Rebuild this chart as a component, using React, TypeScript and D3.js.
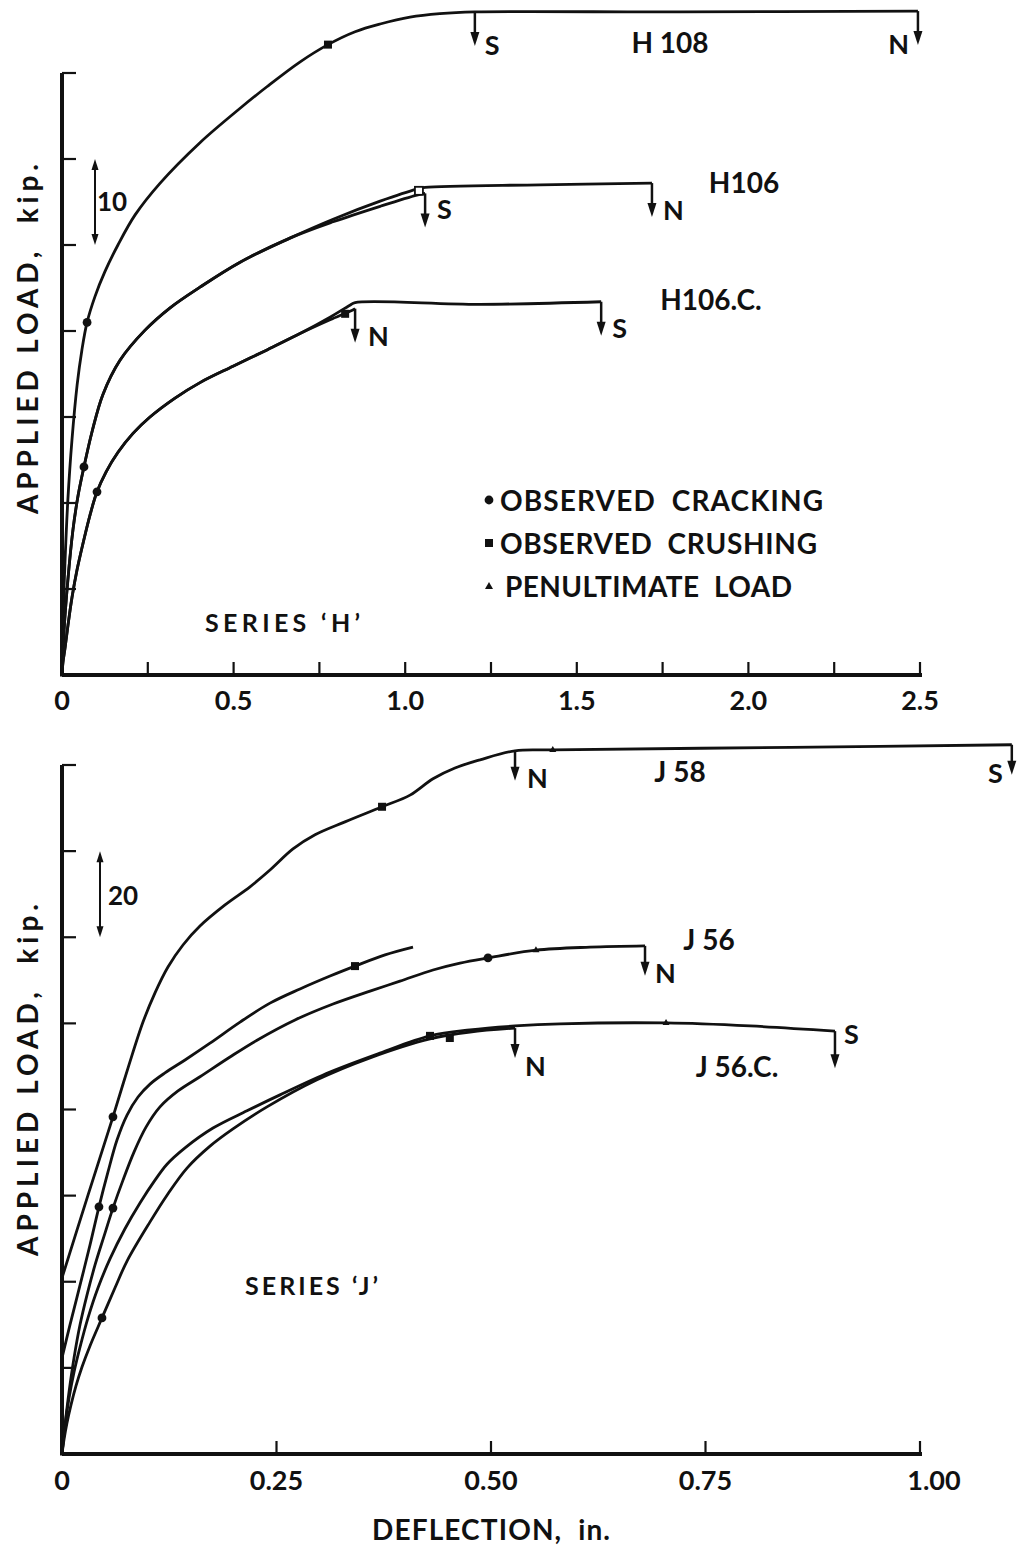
import * as d3 from "d3";

// ---------- Series 'H' (upper graph) ----------
const hXTicks = [0, 0.25, 0.5, 0.75, 1, 1.25, 1.5, 1.75, 2, 2.25, 2.5];
const hXLabelVals = [0, 0.5, 1, 1.5, 2, 2.5];
const hXLabels = ["0", "0.5", "1.0", "1.5", "2.0", "2.5"];
const hYTicks = [0, 10, 20, 30, 40, 50, 60, 70];

// [deflection in., load kip]
const h108 = [
  [0, 0], [0.003, 6.4], [0.009, 13.4], [0.017, 20.3], [0.029, 27.3], [0.044, 33.7],
  [0.058, 37.8], [0.073, 41.0], [0.096, 44.0], [0.125, 46.9], [0.163, 50.0],
  [0.213, 53.5], [0.286, 57.2], [0.402, 61.9], [0.519, 65.9], [0.597, 68.4],
  [0.694, 71.3], [0.775, 73.3], [0.854, 74.8], [0.927, 75.7], [1.014, 76.5],
  [1.101, 76.9], [1.203, 77.1], [1.8, 77.1], [2.494, 77.2],
];
const h106Common = [
  [0, 0], [0.006, 5.2], [0.017, 11.0], [0.032, 16.9], [0.047, 20.9], [0.064, 24.2],
  [0.087, 28.2], [0.119, 32.6], [0.169, 36.6], [0.242, 40.1], [0.315, 42.7],
  [0.402, 45.1], [0.519, 48.0], [0.664, 50.8],
];
const h106N = [[0.79, 53.0], [0.927, 55.1], [1.034, 56.5], [1.058, 56.7], [1.393, 57.0], [1.719, 57.2]];
const h106S = [[0.79, 52.7], [0.927, 54.5], [1.034, 55.8], [1.058, 56.0]];
const h106cCommon = [
  [0, 0], [0.0029, 1.5], [0.0087, 3.1], [0.0175, 5.8], [0.0291, 9.0], [0.0437, 12.2],
  [0.0612, 15.3], [0.0816, 18.6], [0.102, 21.3], [0.1282, 23.6], [0.1632, 25.9],
  [0.2069, 28.1], [0.2564, 30.0], [0.3293, 32.2], [0.4021, 34.0], [0.4983, 35.9],
  [0.5973, 37.8], [0.6935, 39.7],
];
const h106cS = [[0.781, 41.6], [0.839, 43.0], [0.854, 43.3], [1.218, 43.1], [1.571, 43.4]];
const h106cN = [[0.781, 41.3], [0.839, 42.3], [0.854, 42.6]];

const hCracking = [[0.073, 41.0], [0.064, 24.2], [0.102, 21.3]];
const hCrushing = [[0.775, 73.3], [0.825, 42.0]];
const hCrushingOpen = [[1.04, 56.3]];
const hArrows: [number, number, string][] = [
  [1.203, 77.1, "S"], [2.494, 77.2, "N"], [1.058, 56.0, "S"],
  [1.719, 57.2, "N"], [0.854, 42.6, "N"], [1.571, 43.4, "S"],
];
const hNames = ["H 108", "H106", "H106.C."];

// ---------- Series 'J' (lower graph) ----------
const jXTicks = [0, 0.25, 0.5, 0.75, 1];
const jXLabels = ["0", "0.25", "0.50", "0.75", "1.00"];
const jYTicks = [0, 20, 40, 60, 80, 100, 120, 140, 160];

const j58 = [
  [0, 40.9], [0.0303, 60.1], [0.0594, 78.3], [0.0769, 89.6], [0.0944, 100.3], [0.1084, 107.1],
  [0.1235, 113.1], [0.141, 118.2], [0.1608, 122.6], [0.19, 127.5], [0.2191, 131.7],
  [0.2424, 135.6], [0.2692, 140.5], [0.2949, 143.8], [0.3298, 146.8], [0.373, 150.3],
  [0.4056, 153.0], [0.4324, 156.8], [0.458, 159.3], [0.4872, 161.2], [0.528, 163.3],
  [0.572, 163.5], [0.85, 164.1], [1.107, 164.7],
];
const j56a = [
  [0, 22.3], [0.0093, 30.0], [0.021, 39.2], [0.0326, 48.5], [0.0431, 57.4], [0.0536, 65.5],
  [0.0641, 72.9], [0.0758, 78.7], [0.0886, 82.9], [0.1026, 85.9], [0.12, 88.5],
  [0.1434, 91.5], [0.1725, 95.4], [0.2075, 100.3], [0.2424, 104.7], [0.2774, 108.0],
  [0.3124, 111.0], [0.3415, 113.3], [0.3765, 115.9], [0.4091, 117.7],
];
const j56b = [
  [0, 0], [0.0035, 6.7], [0.0082, 14.4], [0.014, 22.3], [0.021, 30.0], [0.0291, 36.9],
  [0.0385, 43.9], [0.049, 50.6], [0.0594, 57.1], [0.0711, 63.6], [0.0839, 70.1],
  [0.0979, 75.9], [0.1142, 80.6], [0.1352, 84.3], [0.1608, 87.6], [0.1958, 92.2],
  [0.2273, 96.1], [0.2716, 100.8], [0.3159, 104.5], [0.359, 107.5], [0.3939, 109.8],
  [0.4324, 112.4], [0.4639, 114.0], [0.4965, 115.2], [0.5524, 117.0], [0.6154, 117.7],
  [0.6795, 118.0],
];
const j56cS = [
  [0, 0], [0.0035, 6.7], [0.0082, 13.0], [0.014, 19.0], [0.021, 24.8], [0.0303, 31.6],
  [0.042, 38.6], [0.0559, 45.3], [0.0734, 52.3], [0.0909, 58.3], [0.1084, 63.6],
  [0.1224, 67.3], [0.1434, 71.1], [0.176, 75.7], [0.2156, 79.7], [0.2541, 83.4],
  [0.3124, 88.7], [0.3706, 93.1], [0.4289, 97.1], [0.4755, 98.5], [0.528, 99.4],
  [0.5804, 99.9], [0.704, 100.1], [0.8019, 99.4], [0.9009, 98.2],
];
const j56cN = [
  [0, 0], [0.0023, 3.3], [0.0058, 7.2], [0.0105, 11.4], [0.0163, 15.8], [0.0233, 20.2],
  [0.0326, 25.1], [0.0466, 31.6], [0.0618, 38.6], [0.0758, 44.8], [0.1026, 53.9],
  [0.1224, 60.1], [0.1457, 66.4], [0.1725, 71.5], [0.1993, 75.5], [0.2389, 80.6],
  [0.2972, 86.9], [0.359, 92.0], [0.4289, 96.4], [0.4755, 98.0], [0.528, 98.9],
];

const jCracking = [[0.0594, 78.3], [0.0431, 57.4], [0.0594, 57.1], [0.4965, 115.2], [0.0466, 31.6]];
const jCrushing = [[0.373, 150.3], [0.3415, 113.3], [0.4289, 97.1], [0.452, 96.6]];
const jPenultimate = [[0.572, 163.5], [0.5524, 117.0], [0.704, 100.1]];
const jArrows: [number, number, string][] = [
  [0.528, 163.3, "N"], [1.107, 164.7, "S"], [0.6795, 118.0, "N"],
  [0.528, 98.9, "N"], [0.9009, 98.2, "S"],
];
const jNames = ["J 58", "J 56", "J 56.C."];

const legendItems = ["OBSERVED  CRACKING", "OBSERVED  CRUSHING", "PENULTIMATE  LOAD"];

// ---------- layout ----------
const W = 1023;
const H = 1548;
const INK = "#111";
const FONT = "Lato, 'DejaVu Sans', sans-serif";

const xH = d3.scaleLinear().domain([0, 2.5]).range([62, 920]);
const yH = d3.scaleLinear().domain([0, 70]).range([675, 73]);
const xJ = d3.scaleLinear().domain([0, 1]).range([62, 920]);
const yJ = d3.scaleLinear().domain([0, 160]).range([1454, 765]);

// label offsets for the N / S arrows (dx from arrow, dy from arrow top, anchor)
const hArrowLbl = [[10, 43, "start"], [-9, 43, "end"], [12, 26, "start"], [11, 37, "start"], [13, 37, "start"], [11, 36, "start"]];
const jArrowLbl = [[12, 37, "start"], [-9, 38, "end"], [10, 37, "start"], [10, 48, "start"], [9, 13, "start"]];
const hNamePos = [[670, 53], [744, 193], [711, 310]];
const jNamePos = [[680, 782], [709, 950], [737, 1077]];

function Curve({ pts, x, y }: { pts: number[][]; x: any; y: any }) {
  const line = d3
    .line<number[]>()
    .x((d) => x(d[0]))
    .y((d) => y(d[1]))
    .curve(d3.curveCatmullRom.alpha(0.5));
  return <path d={line(pts) || ""} fill="none" stroke={INK} strokeWidth={2.8} strokeLinejoin="round" />;
}

function DownArrow({ px, py, len }: { px: number; py: number; len: number }) {
  const end = py + len;
  return (
    <g>
      <line x1={px} y1={py} x2={px} y2={end - 8} stroke={INK} strokeWidth={2.5} />
      <path d={`M${px - 4.5},${end - 14} L${px + 4.5},${end - 14} L${px},${end} Z`} fill={INK} />
    </g>
  );
}

function ScaleBar({ px, y1, y2 }: { px: number; y1: number; y2: number }) {
  return (
    <g>
      <line x1={px} y1={y1 + 6} x2={px} y2={y2 - 6} stroke={INK} strokeWidth={2} />
      <path d={`M${px - 3.5},${y1 + 11} L${px + 3.5},${y1 + 11} L${px},${y1} Z`} fill={INK} />
      <path d={`M${px - 3.5},${y2 - 11} L${px + 3.5},${y2 - 11} L${px},${y2} Z`} fill={INK} />
    </g>
  );
}

const Dot = ({ p, x, y }: any) => <circle cx={x(p[0])} cy={y(p[1])} r={4.4} fill={INK} />;
const Sq = ({ p, x, y, open }: any) => (
  <rect x={x(p[0]) - 4} y={y(p[1]) - 4} width={8} height={8} fill={open ? "#fff" : INK} stroke={INK} strokeWidth={open ? 1.8 : 0} />
);
const Tri = ({ p, x, y }: any) => {
  const cx = x(p[0]);
  const cy = y(p[1]);
  return <path d={`M${cx - 3.5},${cy + 2} L${cx + 3.5},${cy + 2} L${cx},${cy - 4} Z`} fill={INK} />;
};

export default function App() {
  const txt = { fontFamily: FONT, fontWeight: 700, fill: INK } as const;
  return (
    <svg width={W} height={H} style={{ position: "absolute", left: 0, top: 0, background: "#fff" }}>
      <rect width={W} height={H} fill="#fff" />

      {/* ===== upper graph ===== */}
      <line x1={xH(0)} y1={yH(0)} x2={xH(2.5) + 2} y2={yH(0)} stroke={INK} strokeWidth={3.8} />
      <line x1={xH(0)} y1={yH(0) + 1.5} x2={xH(0)} y2={yH(70)} stroke={INK} strokeWidth={4} />
      {hYTicks.map((t) => (
        <line key={t} x1={xH(0)} x2={xH(0) + 14} y1={yH(t)} y2={yH(t)} stroke={INK} strokeWidth={2.2} />
      ))}
      {hXTicks.slice(1).map((t) => (
        <line key={t} x1={xH(t)} x2={xH(t)} y1={yH(0)} y2={yH(0) - 13} stroke={INK} strokeWidth={2.2} />
      ))}
      {hXLabelVals.map((v, i) => (
        <text key={v} x={xH(v)} y={710} textAnchor="middle" fontSize={27} {...txt}>{hXLabels[i]}</text>
      ))}
      <text transform={`translate(38,339) rotate(-90)`} textAnchor="middle" fontSize={28} textLength={350} lengthAdjust="spacing" style={{ whiteSpace: "pre" }} {...txt}>
        APPLIED LOAD,  kip.
      </text>
      <ScaleBar px={95} y1={yH(60)} y2={yH(50)} />
      <text x={97} y={211} fontSize={26} {...txt}>10</text>

      <Curve pts={h108} x={xH} y={yH} />
      <Curve pts={[...h106Common, ...h106N]} x={xH} y={yH} />
      <Curve pts={[...h106Common, ...h106S]} x={xH} y={yH} />
      <Curve pts={[...h106cCommon, ...h106cS]} x={xH} y={yH} />
      <Curve pts={[...h106cCommon, ...h106cN]} x={xH} y={yH} />
      {hCracking.map((p, i) => <Dot key={i} p={p} x={xH} y={yH} />)}
      {hCrushing.map((p, i) => <Sq key={i} p={p} x={xH} y={yH} />)}
      {hCrushingOpen.map((p, i) => <Sq key={i} p={p} x={xH} y={yH} open />)}
      {hArrows.map(([d, l, s], i) => {
        const px = xH(d);
        const py = yH(l);
        const [dx, dy, anchor] = hArrowLbl[i] as [number, number, any];
        return (
          <g key={i}>
            <DownArrow px={px} py={py} len={34} />
            <text x={px + dx} y={py + dy} textAnchor={anchor} fontSize={27} {...txt}>{s}</text>
          </g>
        );
      })}
      {hNames.map((n, i) => (
        <text key={n} x={hNamePos[i][0]} y={hNamePos[i][1]} textAnchor="middle" fontSize={28} {...txt}>{n}</text>
      ))}
      <text x={205} y={632} fontSize={25} textLength={155} lengthAdjust="spacing" {...txt}>SERIES ‘H’</text>

      {/* legend */}
      {legendItems.map((t, i) => {
        const cy = 500 + i * 43;
        return (
          <g key={t}>
            {i === 0 && <circle cx={489} cy={cy} r={4.4} fill={INK} />}
            {i === 1 && <rect x={485} y={cy - 4} width={8} height={8} fill={INK} />}
            {i === 2 && <path d={`M${485},${cy + 3} L${493},${cy + 3} L${489},${cy - 4} Z`} fill={INK} />}
            <text x={i === 2 ? 505 : 500} y={cy + 11} fontSize={28} textLength={[323, 317, 287][i]} lengthAdjust="spacing" style={{ whiteSpace: "pre" }} {...txt}>
              {t}
            </text>
          </g>
        );
      })}

      {/* ===== lower graph ===== */}
      <line x1={xJ(0)} y1={yJ(0)} x2={xJ(1) + 2} y2={yJ(0)} stroke={INK} strokeWidth={3.8} />
      <line x1={xJ(0)} y1={yJ(0) + 1.5} x2={xJ(0)} y2={yJ(160)} stroke={INK} strokeWidth={4} />
      {jYTicks.map((t) => (
        <line key={t} x1={xJ(0)} x2={xJ(0) + 14} y1={yJ(t)} y2={yJ(t)} stroke={INK} strokeWidth={2.2} />
      ))}
      {jXTicks.slice(1).map((t) => (
        <line key={t} x1={xJ(t)} x2={xJ(t)} y1={yJ(0)} y2={yJ(0) - 13} stroke={INK} strokeWidth={2.2} />
      ))}
      {jXTicks.map((v, i) => (
        <text key={v} x={xJ(v) + (i === 4 ? 14 : 0)} y={1490} textAnchor="middle" fontSize={27} {...txt}>{jXLabels[i]}</text>
      ))}
      <text x={491} y={1540} textAnchor="middle" fontSize={28} textLength={238} lengthAdjust="spacing" style={{ whiteSpace: "pre" }} {...txt}>
        DEFLECTION,  in.
      </text>
      <text transform={`translate(38,1080) rotate(-90)`} textAnchor="middle" fontSize={28} textLength={352} lengthAdjust="spacing" style={{ whiteSpace: "pre" }} {...txt}>
        APPLIED LOAD,  kip.
      </text>
      <ScaleBar px={100} y1={yJ(140)} y2={yJ(120)} />
      <text x={108} y={905} fontSize={26} {...txt}>20</text>

      <Curve pts={j58} x={xJ} y={yJ} />
      <Curve pts={j56a} x={xJ} y={yJ} />
      <Curve pts={j56b} x={xJ} y={yJ} />
      <Curve pts={j56cS} x={xJ} y={yJ} />
      <Curve pts={j56cN} x={xJ} y={yJ} />
      {jCracking.map((p, i) => <Dot key={i} p={p} x={xJ} y={yJ} />)}
      {jCrushing.map((p, i) => <Sq key={i} p={p} x={xJ} y={yJ} />)}
      {jPenultimate.map((p, i) => <Tri key={i} p={p} x={xJ} y={yJ} />)}
      {jArrows.map(([d, l, s], i) => {
        const px = xJ(d);
        const py = yJ(l);
        const [dx, dy, anchor] = jArrowLbl[i] as [number, number, any];
        return (
          <g key={i}>
            <DownArrow px={px} py={py} len={i === 4 ? 37 : 30} />
            <text x={px + dx} y={py + dy} textAnchor={anchor} fontSize={27} {...txt}>{s}</text>
          </g>
        );
      })}
      {jNames.map((n, i) => (
        <text key={n} x={jNamePos[i][0]} y={jNamePos[i][1]} textAnchor="middle" fontSize={28} {...txt}>{n}</text>
      ))}
      <text x={245} y={1295} fontSize={25} textLength={133} lengthAdjust="spacing" {...txt}>SERIES ‘J’</text>
    </svg>
  );
}
